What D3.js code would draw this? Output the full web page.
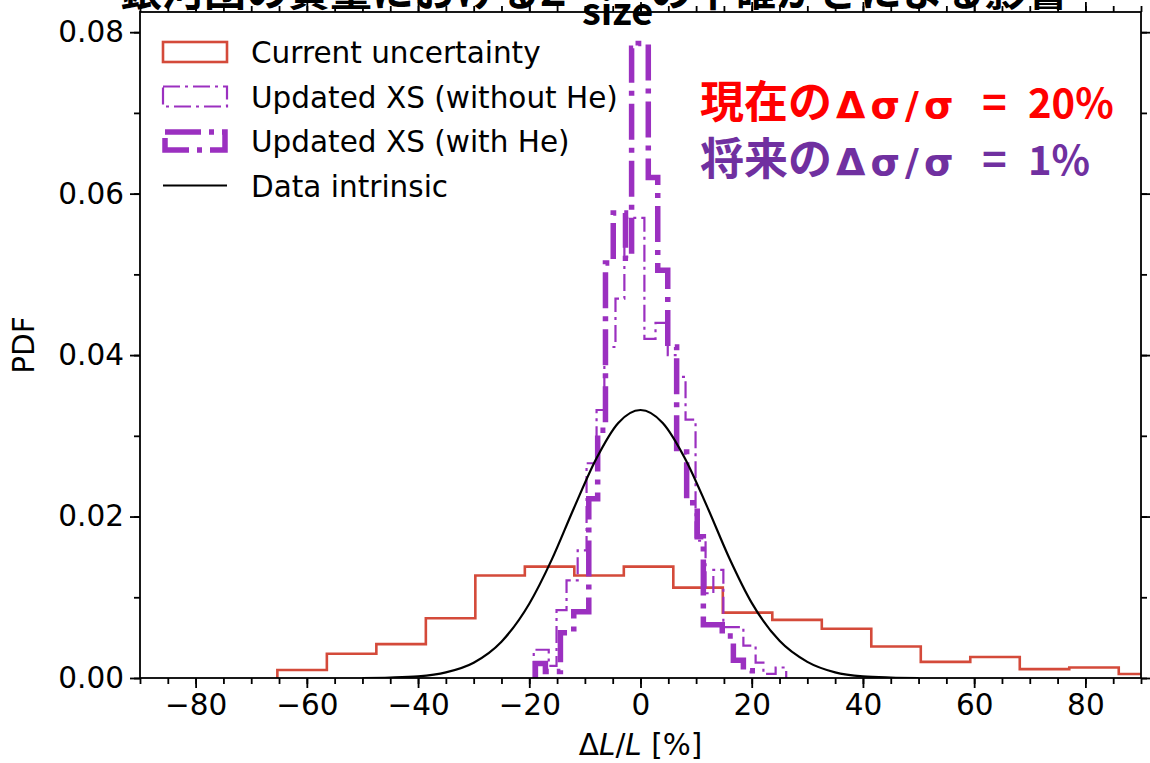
<!DOCTYPE html>
<html>
<head>
<meta charset="utf-8">
<script src="https://cdn.jsdelivr.net/npm/d3@7"></script>
<style>
  body { margin: 0; background: #fff; }
  svg { display: block; }
  text { font-family: "DejaVu Sans", sans-serif; }
</style>
</head>
<body>
<div id="chart"></div>
<script>
// bin edges / heights
const currentEdges = [-65.3, -56.4, -47.5, -38.6, -29.7, -20.8, -11.9, -3.0, 5.9, 14.8, 23.7, 32.6, 41.5, 50.4, 59.3, 68.2, 77.1, 86.0, 94.9];
const currentPdf = [0.0010, 0.0030, 0.0042, 0.0074, 0.0127, 0.0138, 0.0127, 0.0138, 0.0112, 0.0081, 0.0072, 0.0061, 0.0039, 0.0020, 0.0026, 0.0011, 0.0013, 0.0005];

const noHeEdges = [-19.2, -16.5, -15.1, -13.3, -11.3, -9.7, -7.9, -6.5, -4.5, -2.9, 0.7, 2.7, 4.9, 6.3, 8.1, 9.9, 11.7, 13.1, 14.9, 18.5, 20.7, 22.1, 24.3, 26.2];
const noHePdf = [0.0035, 0.0015, 0.0084, 0.0121, 0.0158, 0.0266, 0.0332, 0.041, 0.047, 0.057, 0.042, 0.044, 0.040, 0.0373, 0.032, 0.017, 0.0105, 0.0134, 0.0063, 0.0040, 0.0019, 0.0005, 0.0013];

const withHeEdges = [-18.9, -17.1, -14.4, -12.0, -9.3, -7.7, -6.3, -4.9, -2.7, -1.6, -0.4, 1.4, 3.1, 4.9, 6.5, 8.3, 10.2, 11.3, 14.7, 16.7, 18.5, 20.1];
const withHePdf = [0.0018, 0.0008, 0.0056, 0.0082, 0.0222, 0.0307, 0.0514, 0.0576, 0.052, 0.0780, 0.0786, 0.062, 0.0505, 0.041, 0.028, 0.0217, 0.0175, 0.0066, 0.0052, 0.0022, 0.0009];

// data intrinsic curve
const intrinsicX = [-50, -45, -40, -35, -30, -25, -20, -16, -12, -8, -4, 0, 4, 8, 12, 16, 20, 25, 30, 35, 40, 45, 50];
const intrinsicY = [0.0, 0.00005, 0.0002, 0.0007, 0.0019, 0.0045, 0.0092, 0.0146, 0.0210, 0.0271, 0.0316, 0.0332, 0.0316, 0.0272, 0.0212, 0.0148, 0.0093, 0.0046, 0.0020, 0.0007, 0.0002, 0.00005, 0.0];

const xTicks = [-80, -60, -40, -20, 0, 20, 40, 60, 80];
const yTicks = [0, 0.02, 0.04, 0.06, 0.08];
const legendLabels = ["Current uncertainty", "Updated XS (without He)", "Updated XS (with He)", "Data intrinsic"];

const W = 1150, H = 763;
const margin = {left: 140, right: 9, top: 12, bottom: 85};
const plotW = W - margin.left - margin.right;
const plotH = H - margin.top - margin.bottom;

const red = "#d44a3a", purple = "#9b30c0";

const svg = d3.select("#chart").append("svg")
  .attr("width", W).attr("height", H);

const x = d3.scaleLinear().domain([-90, 90]).range([0, plotW]);
const y = d3.scaleLinear().domain([0, 0.0825]).range([plotH, 0]);

const g = svg.append("g").attr("transform", `translate(${margin.left},${margin.top})`);

g.append("clipPath").attr("id", "clip")
  .append("rect").attr("width", plotW).attr("height", plotH);

function stepPoints(edges, vals) {
  let pts = [[edges[0], 0]];
  vals.forEach((v, i) => { pts.push([edges[i], v]); pts.push([edges[i + 1], v]); });
  pts.push([edges[edges.length - 1], 0]);
  return pts;
}
const line = d3.line().x(d => x(d[0])).y(d => y(d[1]));

const plot = g.append("g").attr("clip-path", "url(#clip)");

plot.append("path")
  .attr("d", line(stepPoints(currentEdges, currentPdf)))
  .attr("fill", "none").attr("stroke", red).attr("stroke-width", 2.6);

plot.append("path")
  .attr("d", line(stepPoints(noHeEdges, noHePdf)))
  .attr("fill", "none").attr("stroke", purple).attr("stroke-width", 2.2)
  .style("stroke-dasharray", "17,5,3,5");

plot.append("path")
  .attr("d", line(stepPoints(withHeEdges, withHePdf)))
  .attr("fill", "none").attr("stroke", purple).attr("stroke-width", 5.5)
  .style("stroke-dasharray", "36,8,5,8");

plot.append("path")
  .attr("d", d3.line().x((d, i) => x(intrinsicX[i])).y(d => y(d)).curve(d3.curveMonotoneX)(intrinsicY))
  .attr("fill", "none").attr("stroke", "#000").attr("stroke-width", 2.2);

// axes
const fs = 29.5;
function styleAxis(sel) {
  sel.select(".domain").remove();
  sel.selectAll("line").attr("stroke", "#000").attr("stroke-width", 1.8);
  sel.selectAll("text").style("font-size", fs + "px").attr("fill", "#000");
}
const xMinor = d3.range(-90, 91, 5);
const yMinor = d3.range(0, 0.0821, 0.01);

g.append("g").attr("transform", `translate(0,${plotH})`)
  .call(d3.axisBottom(x).tickValues(xMinor).tickSize(6).tickFormat("")).call(styleAxis);
g.append("g").attr("transform", `translate(0,${plotH})`)
  .call(d3.axisBottom(x).tickValues(xTicks).tickSize(10).tickPadding(6)).call(styleAxis);
g.append("g")
  .call(d3.axisTop(x).tickValues(xMinor).tickSize(6).tickFormat("")).call(styleAxis);
g.append("g")
  .call(d3.axisTop(x).tickValues(xTicks).tickSize(10).tickFormat("")).call(styleAxis);

g.append("g")
  .call(d3.axisLeft(y).tickValues(yMinor).tickSize(6).tickFormat("")).call(styleAxis);
g.append("g")
  .call(d3.axisLeft(y).tickValues(yTicks).tickSize(10).tickPadding(6).tickFormat(d3.format(".2f"))).call(styleAxis);
g.append("g").attr("transform", `translate(${plotW},0)`)
  .call(d3.axisRight(y).tickValues(yMinor).tickSize(6).tickFormat("")).call(styleAxis);
g.append("g").attr("transform", `translate(${plotW},0)`)
  .call(d3.axisRight(y).tickValues(yTicks).tickSize(10).tickFormat("")).call(styleAxis);

g.append("rect").attr("width", plotW).attr("height", plotH)
  .attr("fill", "none").attr("stroke", "#000").attr("stroke-width", 1.8);

// axis labels
const xl = svg.append("text").attr("x", margin.left + x(0)).attr("y", 755)
  .attr("text-anchor", "middle").style("font-size", fs + "px");
xl.append("tspan").text("Δ");
xl.append("tspan").style("font-style", "italic").text("L");
xl.append("tspan").text("/");
xl.append("tspan").style("font-style", "italic").text("L");
xl.append("tspan").text(" [%]");

svg.append("text").attr("transform", `translate(34,${margin.top + plotH / 2}) rotate(-90)`)
  .attr("text-anchor", "middle").style("font-size", fs + "px").text("PDF");

// legend
const lg = g.append("g").attr("transform", "translate(23,30)");
const rowH = 44.5;
legendLabels.forEach((lab, i) => {
  const row = lg.append("g").attr("transform", `translate(0,${i * rowH})`);
  if (i === 0) {
    row.append("rect").attr("x", 0).attr("y", 0).attr("width", 64).attr("height", 20)
      .attr("fill", "none").attr("stroke", red).attr("stroke-width", 2.6);
  } else if (i === 1) {
    row.append("rect").attr("x", 0).attr("y", 0).attr("width", 64).attr("height", 20)
      .attr("fill", "none").attr("stroke", purple).attr("stroke-width", 2.2)
      .style("stroke-dasharray", "17,5,3,5");
  } else if (i === 2) {
    row.append("rect").attr("x", 2).attr("y", 1).attr("width", 60).attr("height", 18)
      .attr("fill", "none").attr("stroke", purple).attr("stroke-width", 5.5)
      .style("stroke-dasharray", "36,8,5,8");
  } else {
    row.append("line").attr("x1", 0).attr("x2", 64).attr("y1", 10).attr("y2", 10)
      .attr("stroke", "#000").attr("stroke-width", 2.2);
  }
  row.append("text").attr("x", 88).attr("y", 21).style("font-size", fs + "px").text(lab);
});

// annotations: CJK part, Δσ/σ, "=" and the percentage placed like the picture
function note(yBase, color, head, tail) {
  const t = svg.append("text").attr("y", yBase).attr("fill", color)
    .style("font-weight", 700);
  const cjk = "'Noto Sans CJK JP', sans-serif";
  t.append("tspan").attr("x", 700).style("font-family", cjk).style("font-size", "44px").text(head);
  t.append("tspan").attr("x", 836).style("font-family", "'DejaVu Sans', sans-serif")
    .style("font-size", "38px").style("letter-spacing", "5px").text("Δσ/σ");
  t.append("tspan").attr("x", 982).style("font-family", cjk).style("font-size", "42px").text("=");
  t.append("tspan").attr("x", 1028).style("font-family", cjk).style("font-size", "40px").text(tail);
}
note(118, "#ff0000", "現在の", "20%");
note(175, "#7030a0", "将来の", "1%");

// title, cut off by the top of the picture
const cjkFont = "'Noto Sans CJK JP', sans-serif";
const tt = svg.append("text").attr("y", 6)
  .style("font-family", cjkFont).style("font-weight", 700)
  .style("font-size", "42px").attr("fill", "#000");
tt.append("tspan").attr("x", 120).text("銀河団の質量におけるΣ");
tt.append("tspan").attr("x", 582).attr("y", 25).style("font-size", "38px").text("size");
tt.append("tspan").attr("x", 650).attr("y", 6).text("の不確かさによる影響");
</script>
</body>
</html>
